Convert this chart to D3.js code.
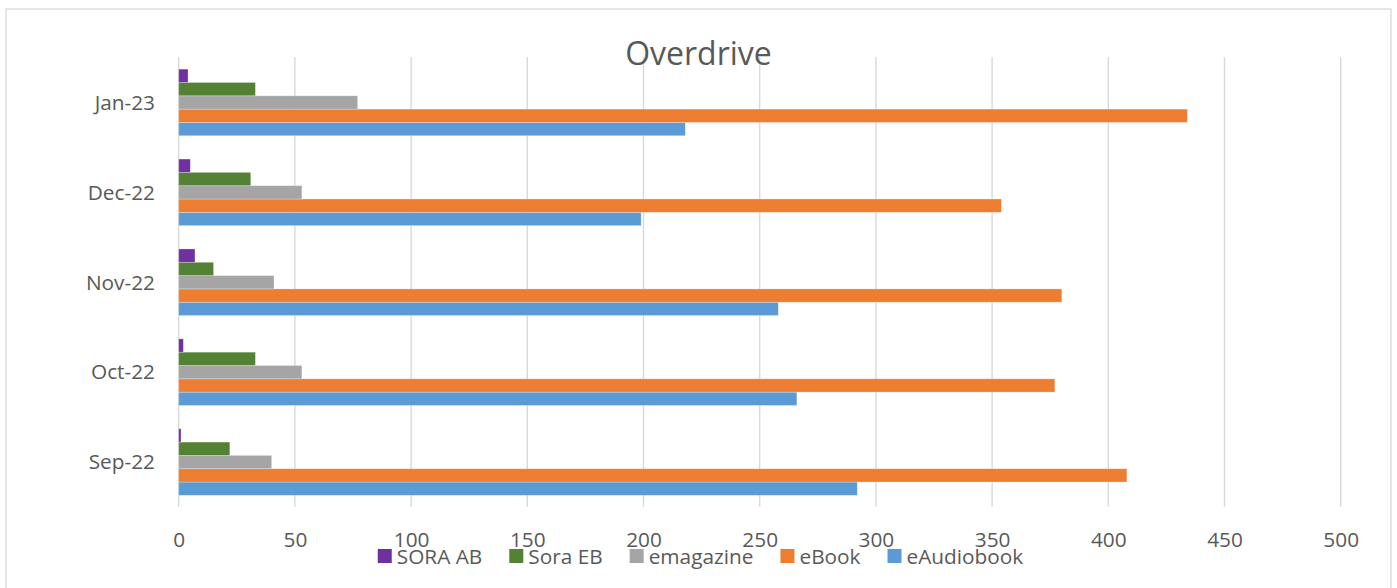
<!DOCTYPE html>
<html>
<head>
<meta charset="utf-8">
<script src="https://cdn.jsdelivr.net/npm/d3@7"></script>
<style>
  html, body { margin: 0; padding: 0; background: #fff; }
  svg { display: block; }
  text { font-family: "Open Sans", "Noto Sans", sans-serif; fill: #595959; }
</style>
</head>
<body>
<svg id="chart" width="1397" height="588"></svg>
<script>
// ---- Data ----
const categories = ["Sep-22", "Oct-22", "Nov-22", "Dec-22", "Jan-23"];
const seriesNames = ["eAudiobook", "eBook", "emagazine", "Sora EB", "SORA AB"];
const eAudiobook = [292, 266, 258, 199, 218];
const eBook = [408, 377, 380, 354, 434];
const emagazine = [40, 53, 41, 53, 77];
const soraEB = [22, 33, 15, 31, 33];
const soraAB = [1, 2, 7, 5, 4];
const xTicks = [0, 50, 100, 150, 200, 250, 300, 350, 400, 450, 500];
const legendOrder = ["SORA AB", "Sora EB", "emagazine", "eBook", "eAudiobook"];
const colors = ["#5B9BD5", "#ED7D31", "#A5A5A5", "#548235", "#7030A0"];
const title = "Overdrive";

const seriesValues = [eAudiobook, eBook, emagazine, soraEB, soraAB];
const colorOf = d3.scaleOrdinal().domain(seriesNames).range(colors);

const svg = d3.select("#chart");

// chart frame
svg.append("rect")
  .attr("x", 6).attr("y", 9)
  .attr("width", 1385).attr("height", 600)
  .attr("fill", "#fff").attr("stroke", "#d9d9d9").attr("stroke-width", 1.3);

const x = d3.scaleLinear().domain([0, 500]).range([178.7, 1340.7]);
const y = d3.scaleBand()
  .domain(categories.slice().reverse())
  .range([57.5, 507])
  .paddingInner(0.2593)
  .paddingOuter(0.1296);
const ySub = d3.scaleBand()
  .domain(seriesNames.slice().reverse())
  .range([0, y.bandwidth()]);

// gridlines
svg.append("g").selectAll("line").data(xTicks).join("line")
  .attr("x1", d => x(d)).attr("x2", d => x(d))
  .attr("y1", 57.3).attr("y2", 506.7)
  .attr("stroke", "#d9d9d9").attr("stroke-width", 1.4);

// bars
const groups = svg.append("g").selectAll("g").data(categories).join("g")
  .attr("transform", d => `translate(0,${y(d)})`);
groups.selectAll("rect")
  .data((c, i) => seriesNames.map((s, k) => ({ s, v: seriesValues[k][i] })))
  .join("rect")
  .attr("x", x(0))
  .attr("y", d => ySub(d.s))
  .attr("width", d => x(d.v) - x(0))
  .attr("height", ySub.bandwidth())
  .attr("fill", d => colorOf(d.s))
  .attr("stroke", "#ffffff").attr("stroke-opacity", 0.35).attr("stroke-width", 0.8);

// x axis labels
const xAxis = d3.axisBottom(x).tickValues(xTicks).tickSize(0).tickPadding(0);
const gx = svg.append("g").attr("transform", "translate(0,527)").call(xAxis);
gx.select(".domain").remove();
gx.selectAll("text")
  .attr("dy", 0).attr("y", 19.7)
  .style("font-size", "20.8px")
  .style("font-family", '"Open Sans", sans-serif')
  .attr("fill", "#595959");

// y axis labels
const yAxis = d3.axisLeft(y).tickSize(0).tickPadding(0);
const gy = svg.append("g").attr("transform", "translate(155,0)").call(yAxis);
gy.select(".domain").remove();
gy.selectAll("text")
  .attr("dy", "0.35em")
  .style("font-size", "20.8px")
  .style("font-family", '"Open Sans", sans-serif')
  .attr("fill", "#595959");

// title
svg.append("text")
  .attr("x", 698.5).attr("y", 65)
  .attr("text-anchor", "middle")
  .style("font-size", "32px")
  .text(title);

// legend
const leg = svg.append("g");
const sq = 14, gapT = 5, gapItem = 27;
const items = leg.selectAll("g").data(legendOrder).join("g");
items.append("rect")
  .attr("width", sq).attr("height", sq)
  .attr("y", 549)
  .attr("fill", d => colorOf(d));
items.append("text")
  .attr("x", sq + gapT).attr("y", 564)
  .style("font-size", "20.8px")
  .text(d => d);
let offs = [], cur = 0;
items.each(function () {
  const w = d3.select(this).select("text").node().getComputedTextLength();
  offs.push(cur);
  cur += sq + gapT + w + gapItem;
});
const total = cur - gapItem;
const start = 700.5 - total / 2;
items.attr("transform", (d, i) => `translate(${start + offs[i]},0)`);
</script>
</body>
</html>
